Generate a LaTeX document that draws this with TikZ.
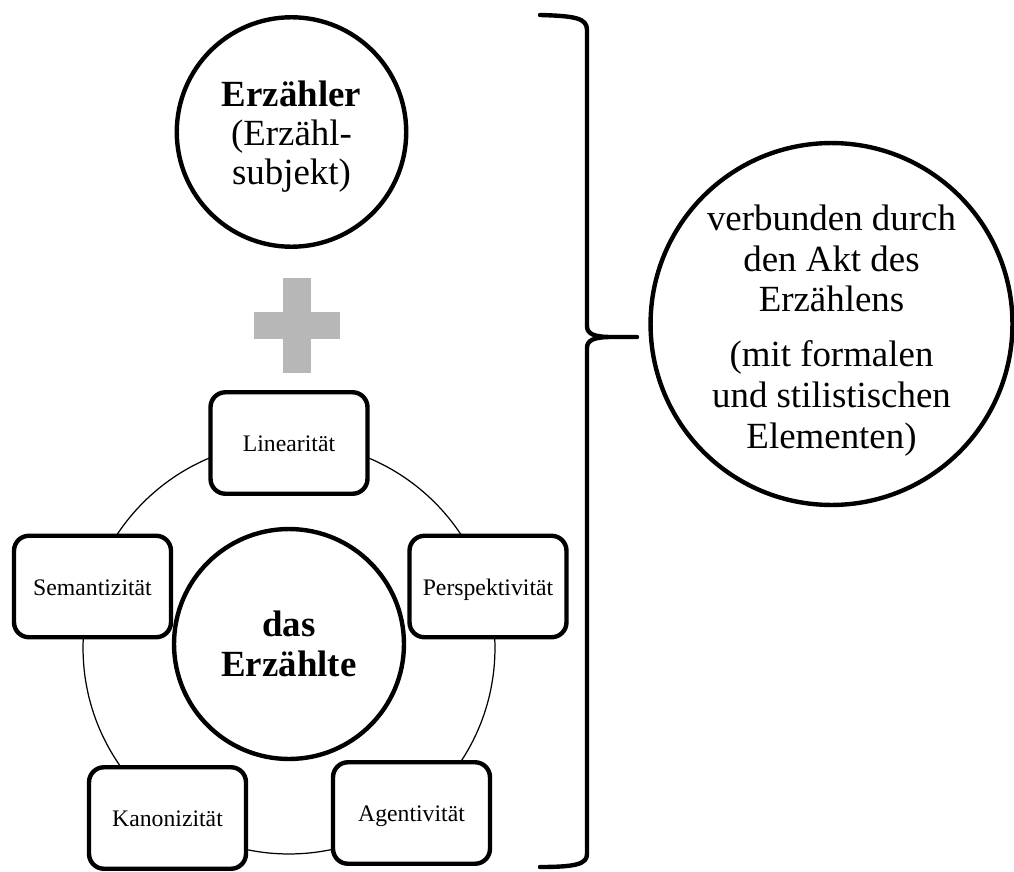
\documentclass[tikz,border=0pt]{standalone}
\usepackage{fontspec}
\setmainfont{Liberation Serif}
\definecolor{plusgray}{HTML}{B7B7B7}

\begin{document}
\begin{tikzpicture}[x=0.02cm, y=-0.02cm,
    box/.style={draw, line width=2.5pt, rounded corners=8.5pt, fill=white, minimum width=3.14cm, minimum height=2.03cm, inner sep=0pt, text height=12pt, text depth=2pt, font=\fontsize{13.5}{16}\selectfont},
    bigcirc/.style={draw, circle, line width=2.5pt, fill=white, align=center, inner sep=0pt, font=\fontsize{21}{22}\selectfont}]
    \useasboundingbox (0,0) rectangle (1014,872);

    %Erzaehler
    \node[bigcirc, minimum size=4.59cm] (erzaehler) at (291.5,132) {\rule{0pt}{20pt}\textbf{Erzähler}\\(Erzähl-\\subjekt)};

    %plus
    \fill[plusgray] (283,278) rectangle (311,373);
    \fill[plusgray] (254,312) rectangle (340,339);

    %cycle
    \draw[line width=0.7pt] (289,648) circle[radius=4.12cm];
    \node[bigcirc, minimum size=4.6cm, font=\bfseries\fontsize{21}{22.7}\selectfont] (erzaehlte) at (289,644) {das\\Erzählte};
    \node[box] (lin) at (289,443) {Linearität};
    \node[box] (persp) at (488,586.5) {Perspektivität};
    \node[box] (agent) at (411.5,813) {Agentivität};
    \node[box] (kanon) at (167.5,818) {Kanonizität};
    \node[box] (sem) at (92.5,586.5) {Semantizität};

    %brace
    \draw[line width=2.5pt, line cap=round, line join=round] (540,15) .. controls (575,16) and (587,18) .. (587,30) -- (587,326) .. controls (587,334) and (594,337) .. (612,337) -- (637,337)
        (612,337) .. controls (594,337) and (587,340) .. (587,348) -- (587,854) .. controls (587,864) and (576,867) .. (540,867);

    %Akt
    \node[bigcirc, minimum size=7.2cm, font=\fontsize{21}{23.2}\selectfont] (akt) at (831.5,324) {\rule{0pt}{22pt}verbunden durch\\den Akt des\\Erzählens\\[8pt](mit formalen\\und stilistischen\\Elementen)};
\end{tikzpicture}
\end{document}
